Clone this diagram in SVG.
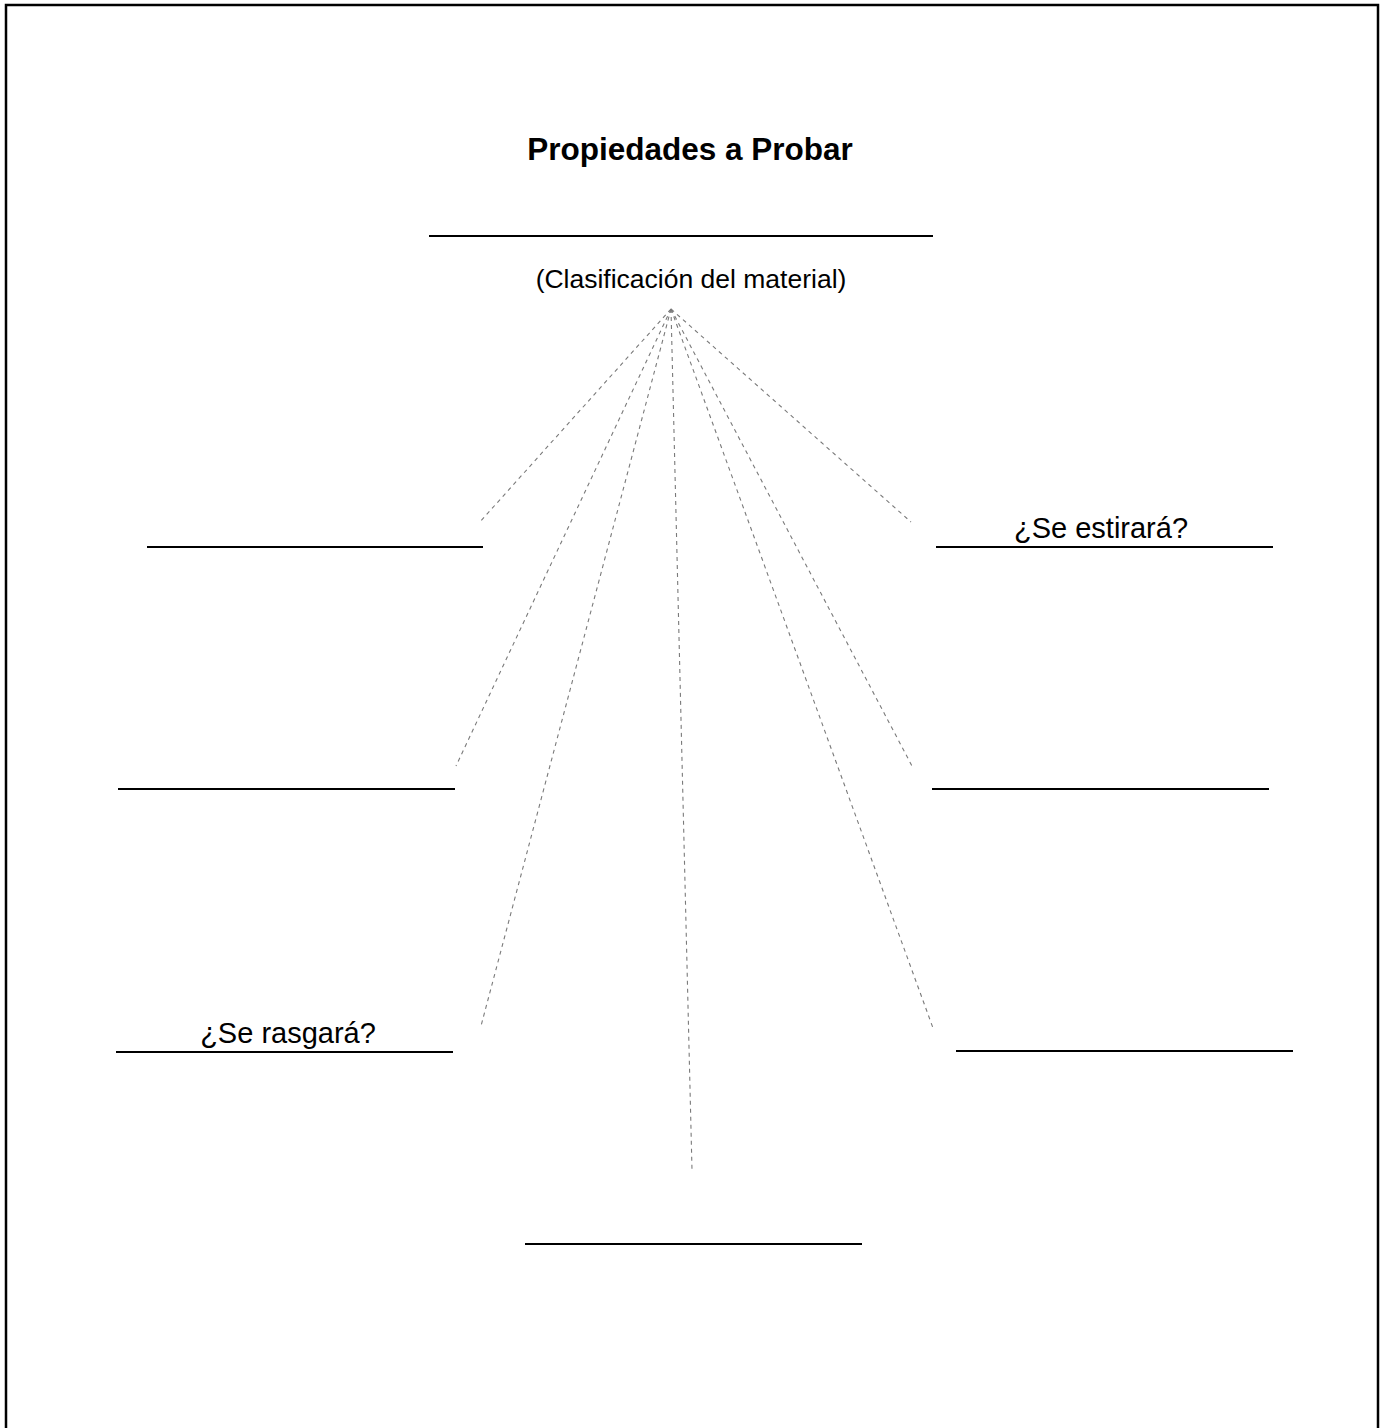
<svg xmlns="http://www.w3.org/2000/svg" width="1383" height="1428" viewBox="0 0 1383 1428">
<style>
.frame{fill:none;stroke:#000;stroke-width:2.5}
.blank{stroke:#000;stroke-width:2;fill:none}
.conn{stroke:#7a7a7a;stroke-width:1.1;stroke-dasharray:4 4;fill:none}
.lbl{font-family:"Liberation Sans",Arial,sans-serif;font-size:29px;fill:#000;text-anchor:middle}
.sub{font-family:"Liberation Sans",Arial,sans-serif;font-size:26.5px;fill:#000;text-anchor:middle}
.title{font-family:"Liberation Sans",Arial,sans-serif;font-size:31.5px;font-weight:bold;fill:#000;text-anchor:middle}
</style>
<rect width="1383" height="1428" fill="#fff"/>
<rect class="frame" x="6" y="5" width="1372" height="1440"/>
<g id="title"><text class="title" x="690" y="160">Propiedades a Probar</text></g>
<g id="center">
<line class="blank" x1="429" y1="236" x2="933" y2="236"/>
<text class="sub" x="691" y="288">(Clasificación del material)</text>
</g>
<g id="connectors">
<line class="conn" x1="671" y1="309" x2="479" y2="523"/>
<line class="conn" x1="671" y1="309" x2="456" y2="766"/>
<line class="conn" x1="671" y1="309" x2="481" y2="1026"/>
<line class="conn" x1="671" y1="309" x2="692" y2="1170"/>
<line class="conn" x1="671" y1="309" x2="933" y2="1028"/>
<line class="conn" x1="671" y1="309" x2="912" y2="766"/>
<line class="conn" x1="671" y1="309" x2="911" y2="522"/>
</g>
<g id="node-left-top"><line class="blank" x1="147" y1="547" x2="483" y2="547"/></g>
<g id="node-left-mid"><line class="blank" x1="118" y1="789" x2="455" y2="789"/></g>
<g id="node-left-bottom">
<line class="blank" x1="116" y1="1052" x2="453" y2="1052"/>
<text class="lbl" x="288" y="1043">¿Se rasgará?</text>
</g>
<g id="node-bottom"><line class="blank" x1="525" y1="1244" x2="862" y2="1244"/></g>
<g id="node-right-top">
<line class="blank" x1="936" y1="547" x2="1273" y2="547"/>
<text class="lbl" x="1101" y="538">¿Se estirará?</text>
</g>
<g id="node-right-mid"><line class="blank" x1="932" y1="789" x2="1269" y2="789"/></g>
<g id="node-right-bottom"><line class="blank" x1="956" y1="1051" x2="1293" y2="1051"/></g>
</svg>
